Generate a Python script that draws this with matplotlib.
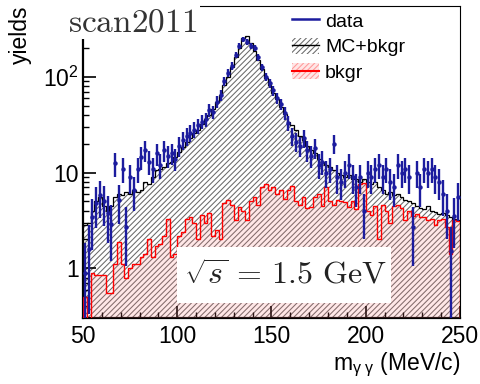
import matplotlib
matplotlib.use("Agg")
import matplotlib.pyplot as plt
import numpy as np
from matplotlib.lines import Line2D
from matplotlib.patches import Patch, Rectangle
from matplotlib.ticker import FixedLocator, FixedFormatter, MultipleLocator, LogLocator, NullFormatter

plt.rcParams["font.family"] = ["Liberation Sans", "DejaVu Sans"]
plt.rcParams["mathtext.fontset"] = "custom"
plt.rcParams["mathtext.rm"] = "Liberation Sans"
plt.rcParams["mathtext.it"] = "Liberation Sans:italic"
plt.rcParams["hatch.linewidth"] = 0.75

# 2 MeV bins from 50 to 250
bin_edges = np.arange(50, 252, 2)

data = [0.9, 1.6, 3.4, 4.8, 5.8, 5.0, 3.8, 2.9, 12.5, 5.2,
        11.0, 2.7, 9.0, 6.5, 11.0, 14.5, 17.0, 13.0, 11.0, 15.8,
        12.0, 17.0, 15.0, 16.0, 14.0, 19.0, 22.0, 24.0, 26.0, 28.0,
        31.0, 34.0, 36.0, 45.0, 43.0, 55.0, 64.0, 90.0, 110.0, 130.0,
        170.0, 210.0, 245.0, 230.0, 210.0, 200.0, 160.0, 125.0, 100.0, 85.0,
        72.0, 60.0, 52.0, 42.0, 33.0, 24.0, 21.0, 19.0, 23.0, 17.0,
        15.0, 18.0, 12.0, 13.0, 10.0, 11.0, 20.0, 9.0, 8.0, 10.0,
        12.0, 9.0, 7.0, 9.0, 4.0, 10.0, 9.0, 11.0, 12.0, 9.0,
        11.0, 8.0, 7.0, 12.0, 10.0, 11.0, 9.0, 2.7, 10.0, 7.0,
        11.0, 10.0, 11.0, 9.0, 8.0, 6.0, 4.0, 1.5, 3.5, 5.5]

mc_bkgr = [2.8, 3.0, 4.0, 5.0, 5.5, 4.5, 4.0, 4.5, 5.5, 6.0,
           5.8, 6.2, 6.0, 6.5, 6.3, 6.5, 8.0, 7.5, 9.0, 10.5,
           11.0, 11.5, 12.5, 13.0, 14.5, 16.5, 18.5, 21.0, 23.0, 26.0,
           28.0, 32.0, 36.0, 40.0, 46.0, 55.0, 65.0, 82.0, 100.0, 125.0,
           160.0, 200.0, 255.0, 265.0, 225.0, 185.0, 150.0, 120.0, 98.0, 82.0,
           68.0, 58.0, 48.0, 41.0, 34.0, 31.0, 28.0, 24.0, 22.0, 19.0,
           17.0, 16.0, 14.0, 13.0, 12.0, 11.5, 10.5, 10.0, 9.5, 9.0,
           9.5, 8.5, 8.5, 8.0, 8.5, 8.0, 7.5, 8.0, 7.0, 6.5,
           6.0, 6.3, 5.8, 6.0, 5.5, 5.2, 5.0, 4.8, 4.5, 4.3,
           4.2, 4.5, 4.0, 3.9, 3.7, 3.8, 3.6, 3.4, 3.3, 3.2]

bkgr = [0.5, 0.01, 0.9, 0.85, 0.85, 0.85, 0.55, 0.55, 1.1, 1.9,
        1.1, 0.8, 1.0, 1.1, 1.1, 1.3, 1.4, 2.0, 1.3, 1.7,
        1.8, 2.2, 3.3, 1.3, 1.4, 2.2, 2.4, 3.3, 3.4, 3.0,
        2.0, 3.6, 3.0, 3.8, 2.2, 2.5, 2.0, 4.8, 5.2, 4.6,
        3.2, 4.4, 4.0, 3.2, 5.0, 5.5, 4.6, 7.0, 7.5, 6.5,
        7.0, 6.0, 6.6, 5.3, 6.5, 7.2, 5.0, 4.6, 5.5, 4.3,
        4.4, 5.5, 6.0, 4.5, 7.0, 5.0, 4.6, 5.2, 5.0, 4.9,
        4.4, 5.0, 4.2, 7.5, 7.7, 4.0, 3.6, 4.5, 2.0, 4.6,
        4.0, 3.0, 4.5, 4.6, 4.3, 3.2, 4.0, 3.5, 3.7, 3.4,
        3.4, 3.2, 3.3, 2.8, 3.2, 3.3, 2.7, 1.4, 3.2, 3.1]

y_ticks = [1, 10, 100]
y_tick_labels = ["1", "10", "$10^{2}$"]

data = np.array(data)
centers = 0.5 * (bin_edges[1:] + bin_edges[:-1])
err = np.sqrt(data)
err_lo = np.minimum(err, data - 0.01)

fig = plt.figure(figsize=(4.81, 3.84), dpi=100)
ax = fig.add_axes([83 / 481, 66 / 384, 377 / 481, 312 / 384])
ax.set_yscale("log")

base = 0.05
ax.stairs(mc_bkgr, bin_edges, baseline=base, fill=True, facecolor="none",
          edgecolor="#6a6a6a", hatch="//////", linewidth=0, zorder=1)
ax.stairs(mc_bkgr, bin_edges, baseline=None, color="black", linewidth=0.9, zorder=2)
ax.stairs(bkgr, bin_edges, baseline=base, fill=True, facecolor=(1.0, 0.45, 0.45, 0.17),
          edgecolor="none", linewidth=0, zorder=3)
ax.stairs(bkgr, bin_edges, baseline=base, color="red", linewidth=1.0, zorder=4)

ax.errorbar(centers, data, yerr=[err_lo, err], fmt="o", color="#1c1c9e",
            markersize=2.2, elinewidth=1.7, capsize=0, zorder=5)

ax.set_xlim(50, 250)
ax.set_ylim(0.303, 547)

ax.xaxis.set_major_locator(MultipleLocator(50))
ax.xaxis.set_minor_locator(MultipleLocator(10))
ax.yaxis.set_major_locator(FixedLocator(y_ticks))
ax.yaxis.set_major_formatter(FixedFormatter(y_tick_labels))
ax.yaxis.set_minor_locator(LogLocator(base=10, subs=np.arange(2, 10)))
ax.yaxis.set_minor_formatter(NullFormatter())
ax.tick_params(which="both", direction="in", top=False, right=False, labelsize=16.5)
ax.tick_params(which="major", length=9, width=1.2)
ax.tick_params(which="minor", length=4.5, width=1.0)
ax.tick_params(axis="x", pad=5)
ax.tick_params(axis="y", pad=3)
for side in ["left", "bottom"]:
    ax.spines[side].set_linewidth(1.6)
for side in ["top", "right"]:
    ax.spines[side].set_linewidth(0.8)

# white boxes behind the labels
fig.patches.append(Rectangle((62 / 481, 1 - 39 / 384), 138 / 481, 39 / 384,
                             transform=fig.transFigure, facecolor="white",
                             edgecolor="none", zorder=2))
fig.text(68 / 481, 1 - 31 / 384, r"$\mathrm{scan2011}$", fontsize=24,
         math_fontfamily="cm", color="#333333", ha="left", va="baseline", zorder=3)

fig.patches.append(Rectangle((177 / 481, 1 - 303 / 384), 214 / 481, 56 / 384,
                             transform=fig.transFigure, facecolor="white",
                             edgecolor="none", zorder=2))
fig.text(285 / 481, 1 - 275 / 384, r"$\sqrt{s}\,=\,1.5\ \mathrm{GeV}$", fontsize=23,
         math_fontfamily="cm", color="#222222", ha="center", va="center", zorder=3)

fig.text(20 / 481, 1 - 6 / 384, "yields", rotation=90, fontsize=16.5,
         ha="center", va="top")
fig.text(460 / 481, 1 - 370 / 384, r"m$_{\mathrm{γ\ γ}}$ (MeV/c)", fontsize=16.5,
         ha="right", va="baseline")

h_data = Line2D([], [], color="#1c1c9e", linewidth=1.8)
h_mc = (Patch(facecolor="white", edgecolor="#6a6a6a", hatch="//////", linewidth=0),
        Line2D([], [], color="black", linewidth=1.0))
h_bk = (Patch(facecolor=(1.0, 0.9, 0.9), edgecolor=(1.0, 0.6, 0.6), hatch="//////", linewidth=0),
        Line2D([], [], color="red", linewidth=1.5))
fig.legend([h_data, h_mc, h_bk], ["data", "MC+bkgr", "bkgr"],
           loc="upper left", bbox_to_anchor=(292 / 481, 1 - 12 / 384),
           frameon=False, fontsize=14, handlelength=1.4, handleheight=0.9,
           handletextpad=0.3, labelspacing=0.35, borderpad=0, borderaxespad=0)

fig.savefig("out.png", dpi=100)
